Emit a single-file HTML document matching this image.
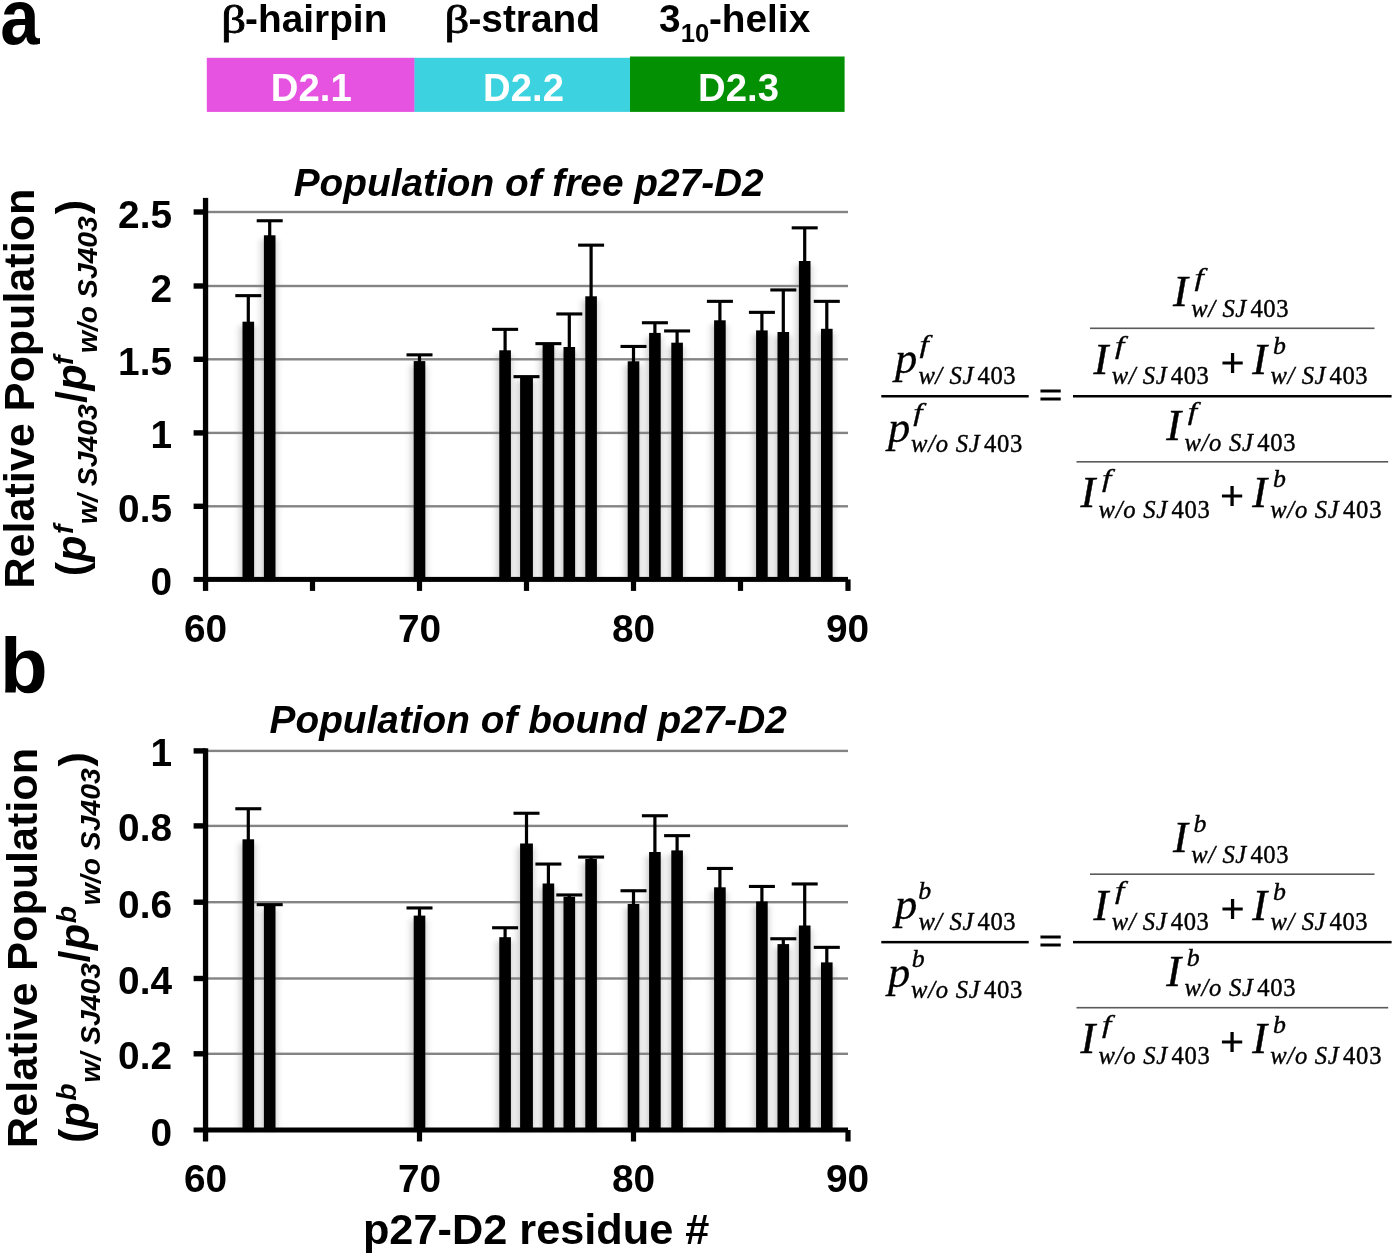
<!DOCTYPE html>
<html><head><meta charset="utf-8"><title>Figure</title>
<style>
html,body{margin:0;padding:0;background:#fff;}
svg{display:block}
text{font-family:"Liberation Sans", Arial, Helvetica, sans-serif;fill:#000}
.b{font-weight:bold}
.bi{font-weight:bold;font-style:italic}
.s{font-family:"Liberation Serif", "Times New Roman", serif}
.si{font-family:"Liberation Serif", "Times New Roman", serif;font-style:italic}
</style></head><body>
<svg width="1395" height="1257" viewBox="0 0 1395 1257">
<defs><filter id="sh" x="-5%" y="-5%" width="110%" height="110%"><feGaussianBlur stdDeviation="4.5 2.5"/></filter></defs>
<rect width="1395" height="1257" fill="#fff"/>

<text transform="translate(0.3,44) scale(0.9,1)" class="b" font-size="78.5">a</text>
<text x="0" y="693" class="b" font-size="78">b</text>
<rect x="206.8" y="57.8" width="208" height="54.1" fill="#e653e0"/>
<rect x="414.5" y="57.8" width="215.7" height="54.1" fill="#3cd2df"/>
<rect x="630" y="56.5" width="214.6" height="55.4" fill="#039003"/>
<text x="311.3" y="101" class="b" font-size="38.3" text-anchor="middle" style="fill:#fff">D2.1</text>
<text x="523.5" y="101" class="b" font-size="38.3" text-anchor="middle" style="fill:#fff">D2.2</text>
<text x="738.5" y="101" class="b" font-size="38.3" text-anchor="middle" style="fill:#fff">D2.3</text>
<text transform="translate(221.2,33.3) scale(1.25,1)" class="s" font-size="39" stroke="#000" stroke-width="0.8">β</text>
<text x="245.1" y="32.3" class="b" font-size="38.8">-hairpin</text>
<text transform="translate(444.4,33.3) scale(1.25,1)" class="s" font-size="39" stroke="#000" stroke-width="0.8">β</text>
<text x="468.4" y="32.3" class="b" font-size="38.8">-strand</text>
<text x="659.1" y="32.3" class="b" font-size="38.8">3</text>
<text x="680.7" y="42" class="b" font-size="25.6">10</text>
<text x="708.9" y="32.3" class="b" font-size="38.8">-helix</text>
<text x="528.7" y="195.6" class="bi" font-size="38.8" text-anchor="middle">Population of free p27-D2</text>
<text x="528.2" y="733" class="bi" font-size="38.8" text-anchor="middle">Population of bound p27-D2</text>
<g filter="url(#sh)" opacity="0.3">
<rect x="241.70" y="325.7" width="11.6" height="253.7" fill="#000"/>
<rect x="263.10" y="239.3" width="11.6" height="340.1" fill="#000"/>
<rect x="412.90" y="365.1" width="11.6" height="214.3" fill="#000"/>
<rect x="498.50" y="354.3" width="11.6" height="225.1" fill="#000"/>
<rect x="519.30" y="380.7" width="12.8" height="198.7" fill="#000"/>
<rect x="541.80" y="347.6" width="11.6" height="231.8" fill="#000"/>
<rect x="562.70" y="351.0" width="11.6" height="228.4" fill="#000"/>
<rect x="584.50" y="300.3" width="11.6" height="279.1" fill="#000"/>
<rect x="626.90" y="365.3" width="11.6" height="214.1" fill="#000"/>
<rect x="648.30" y="336.9" width="11.6" height="242.5" fill="#000"/>
<rect x="670.50" y="346.7" width="11.6" height="232.7" fill="#000"/>
<rect x="713.30" y="324.3" width="11.6" height="255.1" fill="#000"/>
<rect x="755.30" y="334.4" width="11.6" height="245.0" fill="#000"/>
<rect x="776.70" y="336.0" width="11.6" height="243.4" fill="#000"/>
<rect x="798.10" y="265.0" width="11.6" height="314.4" fill="#000"/>
<rect x="820.20" y="332.8" width="11.6" height="246.6" fill="#000"/>
</g>
<rect x="208" y="505.1" width="640" height="2.4" fill="#848484"/>
<rect x="208" y="431.7" width="640" height="2.4" fill="#848484"/>
<rect x="208" y="358.1" width="640" height="2.4" fill="#848484"/>
<rect x="208" y="284.8" width="640" height="2.4" fill="#848484"/>
<rect x="208" y="210.8" width="640" height="2.4" fill="#848484"/>
<rect x="242.50" y="321.7" width="11.6" height="257.7" fill="#000"/>
<rect x="246.7" y="295.7" width="3.2" height="27.0" fill="#000"/>
<rect x="235.3" y="294.1" width="26" height="3.1" fill="#000"/>
<rect x="263.90" y="235.3" width="11.6" height="344.1" fill="#000"/>
<rect x="268.1" y="220.8" width="3.2" height="15.5" fill="#000"/>
<rect x="256.7" y="219.2" width="26" height="3.1" fill="#000"/>
<rect x="413.70" y="361.1" width="11.6" height="218.3" fill="#000"/>
<rect x="417.9" y="354.9" width="3.2" height="7.2" fill="#000"/>
<rect x="406.5" y="353.3" width="26" height="3.1" fill="#000"/>
<rect x="499.30" y="350.3" width="11.6" height="229.1" fill="#000"/>
<rect x="503.5" y="329.4" width="3.2" height="21.9" fill="#000"/>
<rect x="492.1" y="327.8" width="26" height="3.1" fill="#000"/>
<rect x="520.10" y="376.7" width="12.8" height="202.7" fill="#000"/>
<rect x="524.9" y="376.7" width="3.2" height="1.0" fill="#000"/>
<rect x="513.5" y="375.1" width="26" height="3.1" fill="#000"/>
<rect x="542.60" y="343.6" width="11.6" height="235.8" fill="#000"/>
<rect x="546.8" y="343.6" width="3.2" height="1.0" fill="#000"/>
<rect x="535.4" y="342.1" width="26" height="3.1" fill="#000"/>
<rect x="563.50" y="347.0" width="11.6" height="232.4" fill="#000"/>
<rect x="567.7" y="314.0" width="3.2" height="34.0" fill="#000"/>
<rect x="556.3" y="312.4" width="26" height="3.1" fill="#000"/>
<rect x="585.30" y="296.3" width="11.6" height="283.1" fill="#000"/>
<rect x="589.5" y="245.2" width="3.2" height="52.1" fill="#000"/>
<rect x="578.1" y="243.6" width="26" height="3.1" fill="#000"/>
<rect x="627.70" y="361.3" width="11.6" height="218.1" fill="#000"/>
<rect x="631.9" y="346.5" width="3.2" height="15.8" fill="#000"/>
<rect x="620.5" y="344.9" width="26" height="3.1" fill="#000"/>
<rect x="649.10" y="332.9" width="11.6" height="246.5" fill="#000"/>
<rect x="653.3" y="322.8" width="3.2" height="11.1" fill="#000"/>
<rect x="641.9" y="321.2" width="26" height="3.1" fill="#000"/>
<rect x="671.30" y="342.7" width="11.6" height="236.7" fill="#000"/>
<rect x="675.5" y="331.0" width="3.2" height="12.7" fill="#000"/>
<rect x="664.1" y="329.4" width="26" height="3.1" fill="#000"/>
<rect x="714.10" y="320.3" width="11.6" height="259.1" fill="#000"/>
<rect x="718.3" y="301.4" width="3.2" height="19.9" fill="#000"/>
<rect x="706.9" y="299.8" width="26" height="3.1" fill="#000"/>
<rect x="756.10" y="330.4" width="11.6" height="249.0" fill="#000"/>
<rect x="760.3" y="312.4" width="3.2" height="19.0" fill="#000"/>
<rect x="748.9" y="310.8" width="26" height="3.1" fill="#000"/>
<rect x="777.50" y="332.0" width="11.6" height="247.4" fill="#000"/>
<rect x="781.7" y="290.0" width="3.2" height="43.0" fill="#000"/>
<rect x="770.3" y="288.4" width="26" height="3.1" fill="#000"/>
<rect x="798.90" y="261.0" width="11.6" height="318.4" fill="#000"/>
<rect x="803.1" y="227.9" width="3.2" height="34.1" fill="#000"/>
<rect x="791.7" y="226.3" width="26" height="3.1" fill="#000"/>
<rect x="821.00" y="328.8" width="11.6" height="250.6" fill="#000"/>
<rect x="825.2" y="301.4" width="3.2" height="28.4" fill="#000"/>
<rect x="813.8" y="299.8" width="26" height="3.1" fill="#000"/>
<rect x="202.9" y="197.9" width="5.3" height="393.0" fill="#000"/>
<rect x="193.6" y="576.9" width="654.4" height="5.0" fill="#000"/>
<rect x="193.6" y="503.6" width="12" height="5.4" fill="#000"/>
<rect x="193.6" y="430.2" width="12" height="5.4" fill="#000"/>
<rect x="193.6" y="356.6" width="12" height="5.4" fill="#000"/>
<rect x="193.6" y="283.3" width="12" height="5.4" fill="#000"/>
<rect x="193.6" y="209.3" width="12" height="5.4" fill="#000"/>
<rect x="309.9" y="579.4" width="5.2" height="11.5" fill="#000"/>
<rect x="416.9" y="579.4" width="5.2" height="11.5" fill="#000"/>
<rect x="523.9" y="579.4" width="5.2" height="11.5" fill="#000"/>
<rect x="630.9" y="579.4" width="5.2" height="11.5" fill="#000"/>
<rect x="737.9" y="579.4" width="5.2" height="11.5" fill="#000"/>
<rect x="845.4" y="579.4" width="5.2" height="11.5" fill="#000"/>
<g filter="url(#sh)" opacity="0.3">
<rect x="241.70" y="843.3" width="11.6" height="286.7" fill="#000"/>
<rect x="263.10" y="909.2" width="11.6" height="220.8" fill="#000"/>
<rect x="412.90" y="919.6" width="11.6" height="210.4" fill="#000"/>
<rect x="498.50" y="941.2" width="11.6" height="188.8" fill="#000"/>
<rect x="519.30" y="847.5" width="12.8" height="282.5" fill="#000"/>
<rect x="541.80" y="887.5" width="11.6" height="242.5" fill="#000"/>
<rect x="562.70" y="900.8" width="11.6" height="229.2" fill="#000"/>
<rect x="584.50" y="863.0" width="11.6" height="267.0" fill="#000"/>
<rect x="626.90" y="908.0" width="11.6" height="222.0" fill="#000"/>
<rect x="648.30" y="856.0" width="11.6" height="274.0" fill="#000"/>
<rect x="670.50" y="854.4" width="11.6" height="275.6" fill="#000"/>
<rect x="713.30" y="891.3" width="11.6" height="238.7" fill="#000"/>
<rect x="755.30" y="905.5" width="11.6" height="224.5" fill="#000"/>
<rect x="776.70" y="948.1" width="11.6" height="181.9" fill="#000"/>
<rect x="798.10" y="929.5" width="11.6" height="200.5" fill="#000"/>
<rect x="820.20" y="966.4" width="11.6" height="163.6" fill="#000"/>
</g>
<rect x="208" y="1052.6" width="640" height="2.4" fill="#848484"/>
<rect x="208" y="977.3" width="640" height="2.4" fill="#848484"/>
<rect x="208" y="901.0" width="640" height="2.4" fill="#848484"/>
<rect x="208" y="824.7" width="640" height="2.4" fill="#848484"/>
<rect x="208" y="749.7" width="640" height="2.4" fill="#848484"/>
<rect x="242.50" y="839.3" width="11.6" height="290.7" fill="#000"/>
<rect x="246.7" y="808.8" width="3.2" height="31.5" fill="#000"/>
<rect x="235.3" y="807.2" width="26" height="3.1" fill="#000"/>
<rect x="263.90" y="905.2" width="11.6" height="224.8" fill="#000"/>
<rect x="268.1" y="904.6" width="3.2" height="1.6" fill="#000"/>
<rect x="256.7" y="903.1" width="26" height="3.1" fill="#000"/>
<rect x="413.70" y="915.6" width="11.6" height="214.4" fill="#000"/>
<rect x="417.9" y="907.9" width="3.2" height="8.7" fill="#000"/>
<rect x="406.5" y="906.4" width="26" height="3.1" fill="#000"/>
<rect x="499.30" y="937.2" width="11.6" height="192.8" fill="#000"/>
<rect x="503.5" y="927.7" width="3.2" height="10.5" fill="#000"/>
<rect x="492.1" y="926.2" width="26" height="3.1" fill="#000"/>
<rect x="520.10" y="843.5" width="12.8" height="286.5" fill="#000"/>
<rect x="524.9" y="813.2" width="3.2" height="31.3" fill="#000"/>
<rect x="513.5" y="811.7" width="26" height="3.1" fill="#000"/>
<rect x="542.60" y="883.5" width="11.6" height="246.5" fill="#000"/>
<rect x="546.8" y="864.0" width="3.2" height="20.5" fill="#000"/>
<rect x="535.4" y="862.5" width="26" height="3.1" fill="#000"/>
<rect x="563.50" y="896.8" width="11.6" height="233.2" fill="#000"/>
<rect x="567.7" y="894.9" width="3.2" height="2.9" fill="#000"/>
<rect x="556.3" y="893.4" width="26" height="3.1" fill="#000"/>
<rect x="585.30" y="859.0" width="11.6" height="271.0" fill="#000"/>
<rect x="589.5" y="857.0" width="3.2" height="3.0" fill="#000"/>
<rect x="578.1" y="855.5" width="26" height="3.1" fill="#000"/>
<rect x="627.70" y="904.0" width="11.6" height="226.0" fill="#000"/>
<rect x="631.9" y="890.8" width="3.2" height="14.2" fill="#000"/>
<rect x="620.5" y="889.2" width="26" height="3.1" fill="#000"/>
<rect x="649.10" y="852.0" width="11.6" height="278.0" fill="#000"/>
<rect x="653.3" y="815.7" width="3.2" height="37.3" fill="#000"/>
<rect x="641.9" y="814.2" width="26" height="3.1" fill="#000"/>
<rect x="671.30" y="850.4" width="11.6" height="279.6" fill="#000"/>
<rect x="675.5" y="835.6" width="3.2" height="15.8" fill="#000"/>
<rect x="664.1" y="834.1" width="26" height="3.1" fill="#000"/>
<rect x="714.10" y="887.3" width="11.6" height="242.7" fill="#000"/>
<rect x="718.3" y="868.4" width="3.2" height="19.9" fill="#000"/>
<rect x="706.9" y="866.9" width="26" height="3.1" fill="#000"/>
<rect x="756.10" y="901.5" width="11.6" height="228.5" fill="#000"/>
<rect x="760.3" y="886.4" width="3.2" height="16.1" fill="#000"/>
<rect x="748.9" y="884.9" width="26" height="3.1" fill="#000"/>
<rect x="777.50" y="944.1" width="11.6" height="185.9" fill="#000"/>
<rect x="781.7" y="938.7" width="3.2" height="6.4" fill="#000"/>
<rect x="770.3" y="937.2" width="26" height="3.1" fill="#000"/>
<rect x="798.90" y="925.5" width="11.6" height="204.5" fill="#000"/>
<rect x="803.1" y="883.9" width="3.2" height="42.6" fill="#000"/>
<rect x="791.7" y="882.4" width="26" height="3.1" fill="#000"/>
<rect x="821.00" y="962.4" width="11.6" height="167.6" fill="#000"/>
<rect x="825.2" y="947.3" width="3.2" height="16.1" fill="#000"/>
<rect x="813.8" y="945.8" width="26" height="3.1" fill="#000"/>
<rect x="202.9" y="748.3" width="5.3" height="393.2" fill="#000"/>
<rect x="193.6" y="1127.5" width="654.4" height="5.0" fill="#000"/>
<rect x="193.6" y="1051.1" width="12" height="5.4" fill="#000"/>
<rect x="193.6" y="975.8" width="12" height="5.4" fill="#000"/>
<rect x="193.6" y="899.5" width="12" height="5.4" fill="#000"/>
<rect x="193.6" y="823.2" width="12" height="5.4" fill="#000"/>
<rect x="193.6" y="748.2" width="12" height="5.4" fill="#000"/>
<rect x="416.9" y="1130.0" width="5.2" height="11.5" fill="#000"/>
<rect x="630.9" y="1130.0" width="5.2" height="11.5" fill="#000"/>
<rect x="845.4" y="1130.0" width="5.2" height="11.5" fill="#000"/>
<text x="172.0" y="594.9" class="b" font-size="38.8" text-anchor="end">0</text>
<text x="172.0" y="521.8" class="b" font-size="38.8" text-anchor="end">0.5</text>
<text x="172.0" y="448.4" class="b" font-size="38.8" text-anchor="end">1</text>
<text x="172.0" y="374.8" class="b" font-size="38.8" text-anchor="end">1.5</text>
<text x="172.0" y="301.5" class="b" font-size="38.8" text-anchor="end">2</text>
<text x="172.0" y="227.5" class="b" font-size="38.8" text-anchor="end">2.5</text>
<text x="172.0" y="1145.5" class="b" font-size="38.8" text-anchor="end">0</text>
<text x="172.0" y="1069.3" class="b" font-size="38.8" text-anchor="end">0.2</text>
<text x="172.0" y="994.0" class="b" font-size="38.8" text-anchor="end">0.4</text>
<text x="172.0" y="917.7" class="b" font-size="38.8" text-anchor="end">0.6</text>
<text x="172.0" y="841.4" class="b" font-size="38.8" text-anchor="end">0.8</text>
<text x="172.0" y="766.4" class="b" font-size="38.8" text-anchor="end">1</text>
<text x="205.5" y="642" class="b" font-size="38.8" text-anchor="middle">60</text>
<text x="205.5" y="1191.5" class="b" font-size="38.8" text-anchor="middle">60</text>
<text x="419.5" y="642" class="b" font-size="38.8" text-anchor="middle">70</text>
<text x="419.5" y="1191.5" class="b" font-size="38.8" text-anchor="middle">70</text>
<text x="633.5" y="642" class="b" font-size="38.8" text-anchor="middle">80</text>
<text x="633.5" y="1191.5" class="b" font-size="38.8" text-anchor="middle">80</text>
<text x="847.5" y="642" class="b" font-size="38.8" text-anchor="middle">90</text>
<text x="847.5" y="1191.5" class="b" font-size="38.8" text-anchor="middle">90</text>
<text x="536.2" y="1244.0" class="b" font-size="43.3" text-anchor="middle">p27-D2 residue #</text>
<text transform="translate(33.9,388.65) rotate(-90)" class="b" font-size="43.1" text-anchor="middle">Relative Population</text>
<text transform="translate(85.80,576.15) rotate(-90)" class="b" font-size="43">(</text>
<text transform="translate(85.80,561.65) rotate(-90)" class="bi" font-size="43">p</text>
<text transform="translate(72.60,534.00) rotate(-90)" class="bi" font-size="28.3">f</text>
<text transform="translate(97.10,523.90) rotate(-90)" class="bi" font-size="28.3">w/ SJ403</text>
<text transform="translate(85.80,403.00) rotate(-90)" class="b" font-size="43">/</text>
<text transform="translate(85.80,390.55) rotate(-90)" class="bi" font-size="43">p</text>
<text transform="translate(72.60,365.00) rotate(-90)" class="bi" font-size="28.3">f</text>
<text transform="translate(97.10,353.00) rotate(-90)" class="bi" font-size="28.3">w/o SJ403</text>
<text transform="translate(85.80,214.20) rotate(-90)" class="b" font-size="43">)</text>
<text transform="translate(36.8,947.95) rotate(-90)" class="b" font-size="43.1" text-anchor="middle">Relative Population</text>
<text transform="translate(88.70,1142.95) rotate(-90)" class="b" font-size="43">(</text>
<text transform="translate(88.70,1128.45) rotate(-90)" class="bi" font-size="43">p</text>
<text transform="translate(75.50,1100.70) rotate(-90)" class="bi" font-size="28.3">b</text>
<text transform="translate(100.00,1082.60) rotate(-90)" class="bi" font-size="28.3">w/ SJ403</text>
<text transform="translate(88.70,962.50) rotate(-90)" class="b" font-size="43">/</text>
<text transform="translate(88.70,950.05) rotate(-90)" class="bi" font-size="43">p</text>
<text transform="translate(75.50,923.20) rotate(-90)" class="bi" font-size="28.3">b</text>
<text transform="translate(100.00,905.20) rotate(-90)" class="bi" font-size="28.3">w/o SJ403</text>
<text transform="translate(88.70,766.40) rotate(-90)" class="b" font-size="43">)</text>
<text x="895.05" y="373.40" class="si" font-size="44.5" stroke="#000" stroke-width="0.3">p</text>
<text transform="translate(919.62,353.30) scale(1.3,1)" class="si" font-size="25.8" stroke="#000" stroke-width="0.3">f</text>
<text x="918.40" y="383.80" class="si" font-size="24.6" letter-spacing="0.58" stroke="#000" stroke-width="0.4">w/ SJ<tspan font-style="normal" dx="3.6">403</tspan></text>
<text x="887.90" y="441.50" class="si" font-size="44.5" stroke="#000" stroke-width="0.3">p</text>
<text transform="translate(913.27,421.40) scale(1.3,1)" class="si" font-size="25.8" stroke="#000" stroke-width="0.3">f</text>
<text x="911.10" y="452.20" class="si" font-size="24.6" letter-spacing="0.73" stroke="#000" stroke-width="0.4">w/o SJ<tspan font-style="normal" dx="3.6">403</tspan></text>
<rect x="881.3" y="395.0" width="147.4" height="2.5" fill="#000"/>
<text x="1038.96" y="408.66" class="s" font-size="41" stroke="#000" stroke-width="1.2">=</text>
<rect x="1073" y="395.0" width="318.6" height="2.5" fill="#000"/>
<rect x="1090" y="327.5" width="284.5" height="1.6" fill="#5a5a5a"/>
<rect x="1076.5" y="461.0" width="311.7" height="1.6" fill="#5a5a5a"/>
<text x="1173.07" y="305.80" class="si" font-size="44.5" stroke="#000" stroke-width="0.45">I</text>
<text transform="translate(1194.52,285.70) scale(1.3,1)" class="si" font-size="25.8" stroke="#000" stroke-width="0.3">f</text>
<text x="1191.30" y="316.80" class="si" font-size="24.6" letter-spacing="0.58" stroke="#000" stroke-width="0.4">w/ SJ<tspan font-style="normal" dx="3.6">403</tspan></text>
<text x="1093.47" y="373.60" class="si" font-size="44.5" stroke="#000" stroke-width="0.45">I</text>
<text transform="translate(1114.97,353.50) scale(1.3,1)" class="si" font-size="25.8" stroke="#000" stroke-width="0.3">f</text>
<text x="1111.70" y="383.90" class="si" font-size="24.6" letter-spacing="0.58" stroke="#000" stroke-width="0.4">w/ SJ<tspan font-style="normal" dx="3.6">403</tspan></text>
<text x="1220.96" y="376.21" class="s" font-size="41" stroke="#000" stroke-width="1.2">+</text>
<text x="1252.37" y="373.60" class="si" font-size="44.5" stroke="#000" stroke-width="0.45">I</text>
<text x="1272.91" y="353.60" class="si" font-size="25.8" stroke="#000" stroke-width="0.4">b</text>
<text x="1270.50" y="383.90" class="si" font-size="24.6" letter-spacing="0.58" stroke="#000" stroke-width="0.4">w/ SJ<tspan font-style="normal" dx="3.6">403</tspan></text>
<text x="1166.17" y="439.80" class="si" font-size="44.5" stroke="#000" stroke-width="0.45">I</text>
<text transform="translate(1187.67,419.70) scale(1.3,1)" class="si" font-size="25.8" stroke="#000" stroke-width="0.3">f</text>
<text x="1184.40" y="450.50" class="si" font-size="24.6" letter-spacing="0.73" stroke="#000" stroke-width="0.4">w/o SJ<tspan font-style="normal" dx="3.6">403</tspan></text>
<text x="1080.47" y="506.70" class="si" font-size="44.5" stroke="#000" stroke-width="0.45">I</text>
<text transform="translate(1101.92,486.60) scale(1.3,1)" class="si" font-size="25.8" stroke="#000" stroke-width="0.3">f</text>
<text x="1098.60" y="517.80" class="si" font-size="24.6" letter-spacing="0.73" stroke="#000" stroke-width="0.4">w/o SJ<tspan font-style="normal" dx="3.6">403</tspan></text>
<text x="1220.46" y="508.61" class="s" font-size="41" stroke="#000" stroke-width="1.2">+</text>
<text x="1252.37" y="506.70" class="si" font-size="44.5" stroke="#000" stroke-width="0.45">I</text>
<text x="1272.91" y="486.70" class="si" font-size="25.8" stroke="#000" stroke-width="0.4">b</text>
<text x="1270.20" y="517.80" class="si" font-size="24.6" letter-spacing="0.73" stroke="#000" stroke-width="0.4">w/o SJ<tspan font-style="normal" dx="3.6">403</tspan></text>
<text x="895.05" y="919.30" class="si" font-size="44.5" stroke="#000" stroke-width="0.3">p</text>
<text x="918.36" y="899.30" class="si" font-size="25.8" stroke="#000" stroke-width="0.4">b</text>
<text x="918.40" y="929.70" class="si" font-size="24.6" letter-spacing="0.58" stroke="#000" stroke-width="0.4">w/ SJ<tspan font-style="normal" dx="3.6">403</tspan></text>
<text x="887.90" y="987.40" class="si" font-size="44.5" stroke="#000" stroke-width="0.3">p</text>
<text x="911.81" y="967.40" class="si" font-size="25.8" stroke="#000" stroke-width="0.4">b</text>
<text x="911.10" y="998.10" class="si" font-size="24.6" letter-spacing="0.73" stroke="#000" stroke-width="0.4">w/o SJ<tspan font-style="normal" dx="3.6">403</tspan></text>
<rect x="881.3" y="940.9" width="147.4" height="2.5" fill="#000"/>
<text x="1038.96" y="954.56" class="s" font-size="41" stroke="#000" stroke-width="1.2">=</text>
<rect x="1073" y="940.9" width="318.6" height="2.5" fill="#000"/>
<rect x="1090" y="873.4" width="284.5" height="1.6" fill="#5a5a5a"/>
<rect x="1076.5" y="1006.9" width="311.7" height="1.6" fill="#5a5a5a"/>
<text x="1173.07" y="851.70" class="si" font-size="44.5" stroke="#000" stroke-width="0.45">I</text>
<text x="1193.61" y="831.70" class="si" font-size="25.8" stroke="#000" stroke-width="0.4">b</text>
<text x="1191.30" y="862.70" class="si" font-size="24.6" letter-spacing="0.58" stroke="#000" stroke-width="0.4">w/ SJ<tspan font-style="normal" dx="3.6">403</tspan></text>
<text x="1093.47" y="919.50" class="si" font-size="44.5" stroke="#000" stroke-width="0.45">I</text>
<text transform="translate(1114.97,899.40) scale(1.3,1)" class="si" font-size="25.8" stroke="#000" stroke-width="0.3">f</text>
<text x="1111.70" y="929.80" class="si" font-size="24.6" letter-spacing="0.58" stroke="#000" stroke-width="0.4">w/ SJ<tspan font-style="normal" dx="3.6">403</tspan></text>
<text x="1220.96" y="922.11" class="s" font-size="41" stroke="#000" stroke-width="1.2">+</text>
<text x="1252.37" y="919.50" class="si" font-size="44.5" stroke="#000" stroke-width="0.45">I</text>
<text x="1272.91" y="899.50" class="si" font-size="25.8" stroke="#000" stroke-width="0.4">b</text>
<text x="1270.50" y="929.80" class="si" font-size="24.6" letter-spacing="0.58" stroke="#000" stroke-width="0.4">w/ SJ<tspan font-style="normal" dx="3.6">403</tspan></text>
<text x="1166.17" y="985.70" class="si" font-size="44.5" stroke="#000" stroke-width="0.45">I</text>
<text x="1186.71" y="965.70" class="si" font-size="25.8" stroke="#000" stroke-width="0.4">b</text>
<text x="1184.40" y="996.40" class="si" font-size="24.6" letter-spacing="0.73" stroke="#000" stroke-width="0.4">w/o SJ<tspan font-style="normal" dx="3.6">403</tspan></text>
<text x="1080.47" y="1052.60" class="si" font-size="44.5" stroke="#000" stroke-width="0.45">I</text>
<text transform="translate(1101.92,1032.50) scale(1.3,1)" class="si" font-size="25.8" stroke="#000" stroke-width="0.3">f</text>
<text x="1098.60" y="1063.70" class="si" font-size="24.6" letter-spacing="0.73" stroke="#000" stroke-width="0.4">w/o SJ<tspan font-style="normal" dx="3.6">403</tspan></text>
<text x="1220.46" y="1054.51" class="s" font-size="41" stroke="#000" stroke-width="1.2">+</text>
<text x="1252.37" y="1052.60" class="si" font-size="44.5" stroke="#000" stroke-width="0.45">I</text>
<text x="1272.91" y="1032.60" class="si" font-size="25.8" stroke="#000" stroke-width="0.4">b</text>
<text x="1270.20" y="1063.70" class="si" font-size="24.6" letter-spacing="0.73" stroke="#000" stroke-width="0.4">w/o SJ<tspan font-style="normal" dx="3.6">403</tspan></text>
</svg></body></html>
